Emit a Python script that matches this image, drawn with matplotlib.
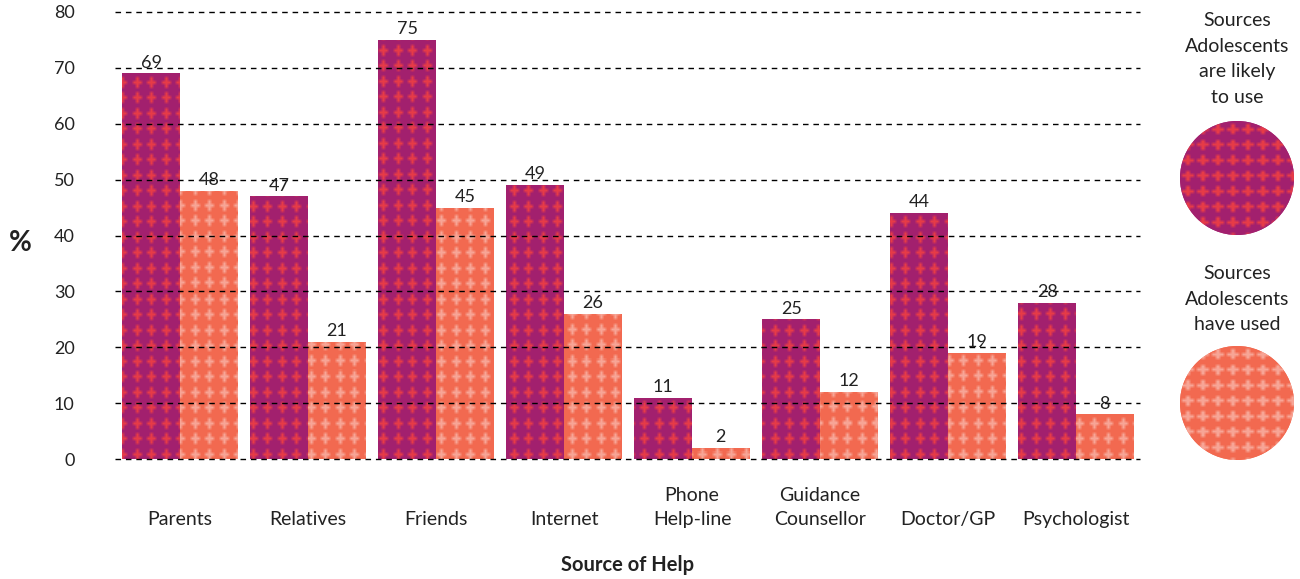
import numpy as np
import matplotlib
matplotlib.use("Agg")
import matplotlib.pyplot as plt
from matplotlib.patches import Circle
from matplotlib.transforms import blended_transform_factory

plt.rcParams['font.family'] = ['Lato', 'DejaVu Sans']

categories = ["Parents", "Relatives", "Friends", "Internet", "Phone\nHelp-line",
              "Guidance\nCounsellor", "Doctor/GP", "Psychologist"]
likely_to_use = [69, 47, 75, 49, 11, 25, 44, 28]
have_used = [48, 21, 45, 26, 2, 12, 19, 8]
y_ticks = [0, 10, 20, 30, 40, 50, 60, 70, 80]
legend_labels = ["Sources\nAdolescents\nare likely\nto use", "Sources\nAdolescents\nhave used"]

DARK_BASE, DARK_MARK = "#A2206E", "#E63B48"
LIGHT_BASE, LIGHT_MARK = "#F26A50", "#F8A596"
TEXT = "#222222"

W, H, DPI = 1300, 579, 100


def hex_rgb(c):
    c = c.lstrip("#")
    return np.array([int(c[i:i + 2], 16) / 255 for i in (0, 2, 4)])


def cross_texture(h, w, base, mark, dx=14.5, dy=15.5, ax_=4.5, ay=5.5, t=1.6):
    yy, xx = np.mgrid[0:h, 0:w].astype(float)
    u = (xx % dx) - dx / 2
    v = (yy % dy) - dy / 2
    m = ((np.abs(u) <= t) & (np.abs(v) <= ay)) | ((np.abs(v) <= t) & (np.abs(u) <= ax_)) \
        | ((np.abs(u) + np.abs(v)) <= 3.2)
    img = np.where(m[..., None], hex_rgb(mark), hex_rgb(base))
    # soften the edges a little
    k = np.pad(img, ((1, 1), (1, 1), (0, 0)), mode="edge")
    img = sum(k[i:i + h, j:j + w] for i in range(3) for j in range(3)) / 9
    return img


fig = plt.figure(figsize=(W / DPI, H / DPI), dpi=DPI)
left_px, right_px, top_px, bottom_px = 115, 1140, 12, 459
ax = fig.add_axes([left_px / W, 1 - bottom_px / H,
                   (right_px - left_px) / W, (bottom_px - top_px) / H])

x = np.arange(len(categories))
bw = 0.45
xlim = (-0.508, 7.5)
ax.set_xlim(*xlim)
ax.set_ylim(0, 80)

tex_h, tex_w = bottom_px - top_px, right_px - left_px
tex_dark = cross_texture(tex_h, tex_w, DARK_BASE, DARK_MARK)
tex_light = cross_texture(tex_h, tex_w, LIGHT_BASE, LIGHT_MARK)

bars_dark = ax.bar(x - bw / 2, likely_to_use, width=bw, color=DARK_BASE, zorder=1)
bars_light = ax.bar(x + bw / 2, have_used, width=bw, color=LIGHT_BASE, zorder=1)

for bars, tex in ((bars_dark, tex_dark), (bars_light, tex_light)):
    for b in bars:
        im = ax.imshow(tex, extent=(xlim[0], xlim[1], 0, 80), origin="upper",
                       aspect="auto", interpolation="nearest", zorder=2)
        im.set_clip_path(b)
ax.set_xlim(*xlim)
ax.set_ylim(0, 80)

for bars, vals in ((bars_dark, likely_to_use), (bars_light, have_used)):
    for b, v in zip(bars, vals):
        ax.text(b.get_x() + b.get_width() / 2, v + 0.5, f"{v}", ha="center", va="bottom",
                fontsize=13, color=TEXT, zorder=5)

for yv in y_ticks:
    ax.axhline(yv, color="black", lw=1.0, ls=(0, (4, 3.5)), zorder=4, clip_on=False)

ax.set_yticks(y_ticks)
ax.set_yticklabels([str(v) for v in y_ticks], fontsize=13, color=TEXT)
ax.tick_params(axis="y", length=0, pad=29)
ax.set_xticks([])
for s in ax.spines.values():
    s.set_visible(False)

trans = blended_transform_factory(ax.transData, ax.transAxes)
for xi, lab in zip(x, categories):
    ax.text(xi, -0.155, lab, transform=trans, ha="center", va="bottom",
            fontsize=14, color=TEXT, linespacing=1.55)

fig.text(20 / W, 1 - 243 / H, "%", ha="center", va="center", fontsize=20,
         fontweight="bold", color=TEXT)
fig.text(628 / W, 1 - 565 / H, "Source of Help", ha="center", va="center",
         fontsize=14.5, fontweight="bold", color=TEXT)

# legend on the right: patterned discs with captions
lax = fig.add_axes([0, 0, 1, 1], zorder=3)
lax.patch.set_alpha(0)
lax.axis("off")

discs = [((1237, 178), DARK_BASE, DARK_MARK, 12),
         ((1237, 403), LIGHT_BASE, LIGHT_MARK, 265)]
for (center, base, mark, ty), lab in zip(discs, legend_labels):
    r = 57
    c = Circle(center, r, facecolor=base, edgecolor="none", zorder=1)
    lax.add_patch(c)
    tex = cross_texture(2 * r, 2 * r, base, mark, dx=15, dy=15.5, ax_=5.5, ay=5.0)
    im = lax.imshow(tex, extent=(center[0] - r, center[0] + r, center[1] + r, center[1] - r),
                    origin="upper", aspect="auto", interpolation="nearest", zorder=2)
    im.set_clip_path(c)
    lax.text(center[0], ty, lab, ha="center", va="top", fontsize=14, color=TEXT,
             linespacing=1.62, zorder=3)
lax.set_xlim(0, W)
lax.set_ylim(H, 0)

fig.savefig("out.png", dpi=DPI)
